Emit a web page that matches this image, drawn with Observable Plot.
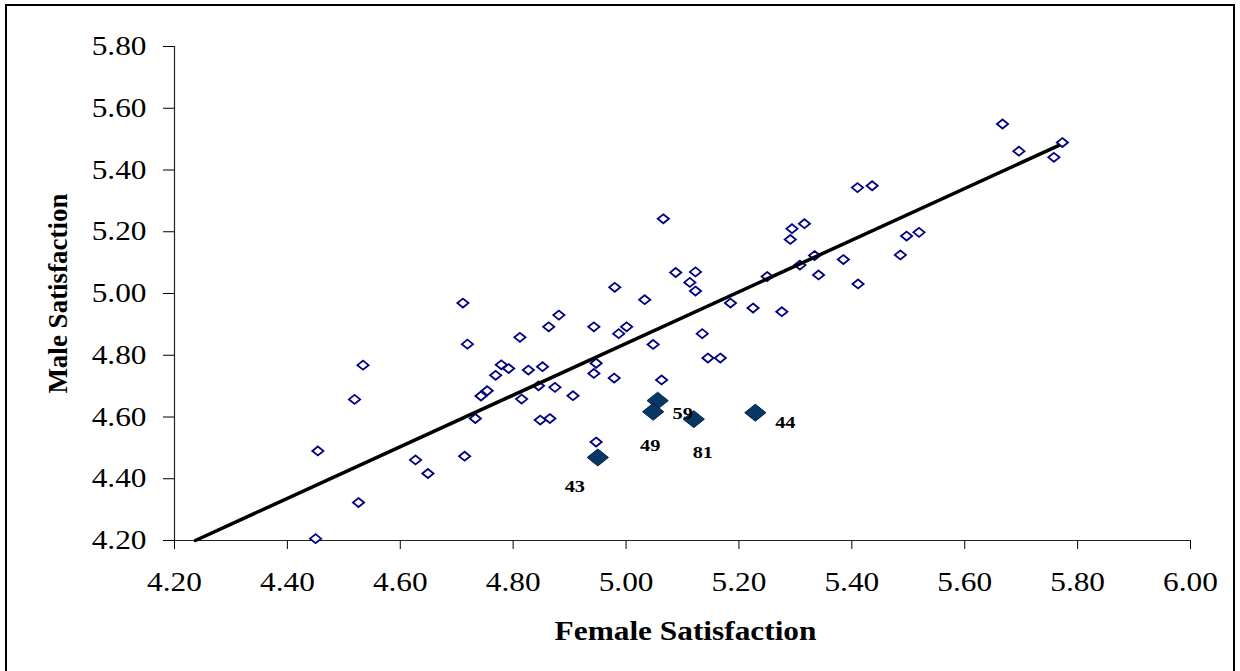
<!DOCTYPE html>
<html>
<head>
<meta charset="utf-8">
<script src="https://cdn.jsdelivr.net/npm/d3@7"></script>
<script src="https://cdn.jsdelivr.net/npm/@observablehq/plot@0.6"></script>
<style>
html, body { margin: 0; padding: 0; background: #fff; }
#wrap { position: relative; width: 1240px; height: 671px; overflow: hidden; }
#frame { position: absolute; left: 5px; top: 4px; width: 1230px; height: 690px; border: 2px solid #000; box-sizing: border-box; pointer-events: none; }
</style>
</head>
<body>
<div id="wrap"><div id="chart"></div><div id="frame"></div></div>
<script>
// ---- data ----
const femaleSat = [
  4.711, 4.881, 4.863, 4.719, 4.812, 4.534, 4.779, 4.792, 4.827, 4.852,
  4.769, 4.754, 4.743, 4.845, 4.874, 4.906, 4.815, 4.519, 4.733, 4.848,
  4.865, 4.454, 4.627, 4.714, 4.649, 4.526, 4.450, 5.088, 5.123, 5.113,
  5.123, 4.980, 5.033, 5.185, 5.225, 5.276, 5.250, 5.308, 5.334, 5.385,
  5.341, 5.411, 4.943, 4.987, 5.001, 5.048, 5.135, 4.947, 4.943, 4.979,
  5.063, 5.145, 5.167, 4.947, 5.066, 5.410, 5.436, 5.294, 5.316, 5.291,
  5.497, 5.519, 5.486, 5.667, 5.696, 5.773, 5.758
];
const maleSat = [
  4.969, 4.930, 4.892, 4.836, 4.858, 4.768, 4.769, 4.757, 4.752, 4.763,
  4.735, 4.685, 4.668, 4.701, 4.696, 4.669, 4.658, 4.657, 4.595, 4.590,
  4.595, 4.490, 4.461, 4.473, 4.417, 4.323, 4.206, 5.068, 5.070, 5.036,
  5.008, 5.020, 4.980, 4.969, 4.953, 4.941, 5.055, 5.092, 5.123, 5.110,
  5.060, 5.031, 4.892, 4.870, 4.892, 4.835, 4.870, 4.774, 4.741, 4.726,
  4.720, 4.791, 4.791, 4.519, 5.242, 5.343, 5.349, 5.210, 5.226, 5.175,
  5.186, 5.198, 5.125, 5.549, 5.461, 5.489, 5.441
];
const highlightFemale = [5.056, 5.048, 5.120, 5.229, 4.950];
const highlightMale   = [4.653, 4.617, 4.593, 4.614, 4.469];
const highlightLabels = ["59", "49", "81", "44", "43"];
const trendX = [4.237, 5.766];
const trendY = [4.200, 5.479];
const xTicks = [4.2, 4.4, 4.6, 4.8, 5.0, 5.2, 5.4, 5.6, 5.8, 6.0];
const yTicks = [4.2, 4.4, 4.6, 4.8, 5.0, 5.2, 5.4, 5.6, 5.8];
const xTitle = "Female Satisfaction";
const yTitle = "Male Satisfaction";

// ---- styling ----
const labelOffset = {"59": [25, 13], "49": [-3, 34], "81": [9, 33], "44": [30, 10], "43": [-23, 29]};
const wideDiamond = {
  draw(ctx, size) {
    const r = Math.sqrt(size / Math.PI), h = r * 0.8;
    ctx.moveTo(0, -h); ctx.lineTo(r, 0); ctx.lineTo(0, h); ctx.lineTo(-r, 0); ctx.closePath();
  }
};
const fmt = d3.format(".2f");
const pts = femaleSat.map((f, i) => ({f, m: maleSat[i]}));
const hi = highlightFemale.map((f, i) => ({f, m: highlightMale[i], label: highlightLabels[i]}));
const trend = trendX.map((x, i) => ({x, y: trendY[i]}));

const chart = Plot.plot({
  width: 1240,
  height: 671,
  marginLeft: 174,
  marginRight: 50,
  marginTop: 46,
  marginBottom: 131,
  style: {fontFamily: "'Liberation Serif', 'Times New Roman', serif", fontSize: "27px", color: "#000", background: "#fff"},
  x: {domain: [4.2, 6.0], ticks: xTicks, tickFormat: fmt, tickSize: 9, tickPadding: 22, label: null},
  y: {domain: [4.2, 5.8], ticks: yTicks, tickFormat: fmt, tickSize: 11, tickPadding: 17, label: null},
  marks: [
    Plot.ruleY([4.2], {stroke: "#222", strokeWidth: 1.2}),
    Plot.ruleX([4.2], {y1: 4.2, y2: 5.8, stroke: "#222", strokeWidth: 1.2}),
    Plot.dot(pts, {x: "f", y: "m", symbol: wideDiamond, r: 5.6, stroke: "#000080", strokeWidth: 1.8, fill: "#fff"}),
    Plot.line(trend, {x: "x", y: "y", stroke: "#000", strokeWidth: 3.5}),
    Plot.dot(hi, {x: "f", y: "m", symbol: wideDiamond, r: 10.6, fill: "#073763", stroke: "#002050", strokeWidth: 1}),
    ...hi.map(d => Plot.text([d], {x: "f", y: "m", text: "label", dx: labelOffset[d.label][0], dy: labelOffset[d.label][1],
      fontSize: 17.5, fontWeight: "bold", fill: "#000"})),
    Plot.text([xTitle], {frameAnchor: "bottom", text: d => d, dx: 3, dy: 99, fontSize: 27, fontWeight: "bold"}),
    Plot.text([yTitle], {frameAnchor: "left", textAnchor: "middle", lineAnchor: "middle", text: d => d, dx: -116, rotate: -90, fontSize: 27, fontWeight: "bold"})
  ]
});
document.getElementById("chart").appendChild(chart);

// widen glyphs horizontally like the reference (not for the rotated title),
// keeping each label's anchor where Plot put it
chart.querySelectorAll("text").forEach(t => {
  const tr = t.getAttribute("transform") || "";
  if (/rotate/.test(tr)) return;
  const w = t.getComputedTextLength();
  if (!(w > 0)) return;
  const b0 = t.getBBox();
  const anchor = getComputedStyle(t).textAnchor;
  t.setAttribute("textLength", (w * 1.16).toFixed(1));
  t.setAttribute("lengthAdjust", "spacingAndGlyphs");
  const b1 = t.getBBox();
  let shift;
  if (anchor === "middle") shift = (b0.x + b0.width / 2) - (b1.x + b1.width / 2);
  else if (anchor === "end") shift = (b0.x + b0.width) - (b1.x + b1.width);
  else shift = b0.x - b1.x;
  if (Math.abs(shift) > 0.01) t.setAttribute("transform", (tr + ` translate(${shift.toFixed(2)},0)`).trim());
});
</script>
</body>
</html>
